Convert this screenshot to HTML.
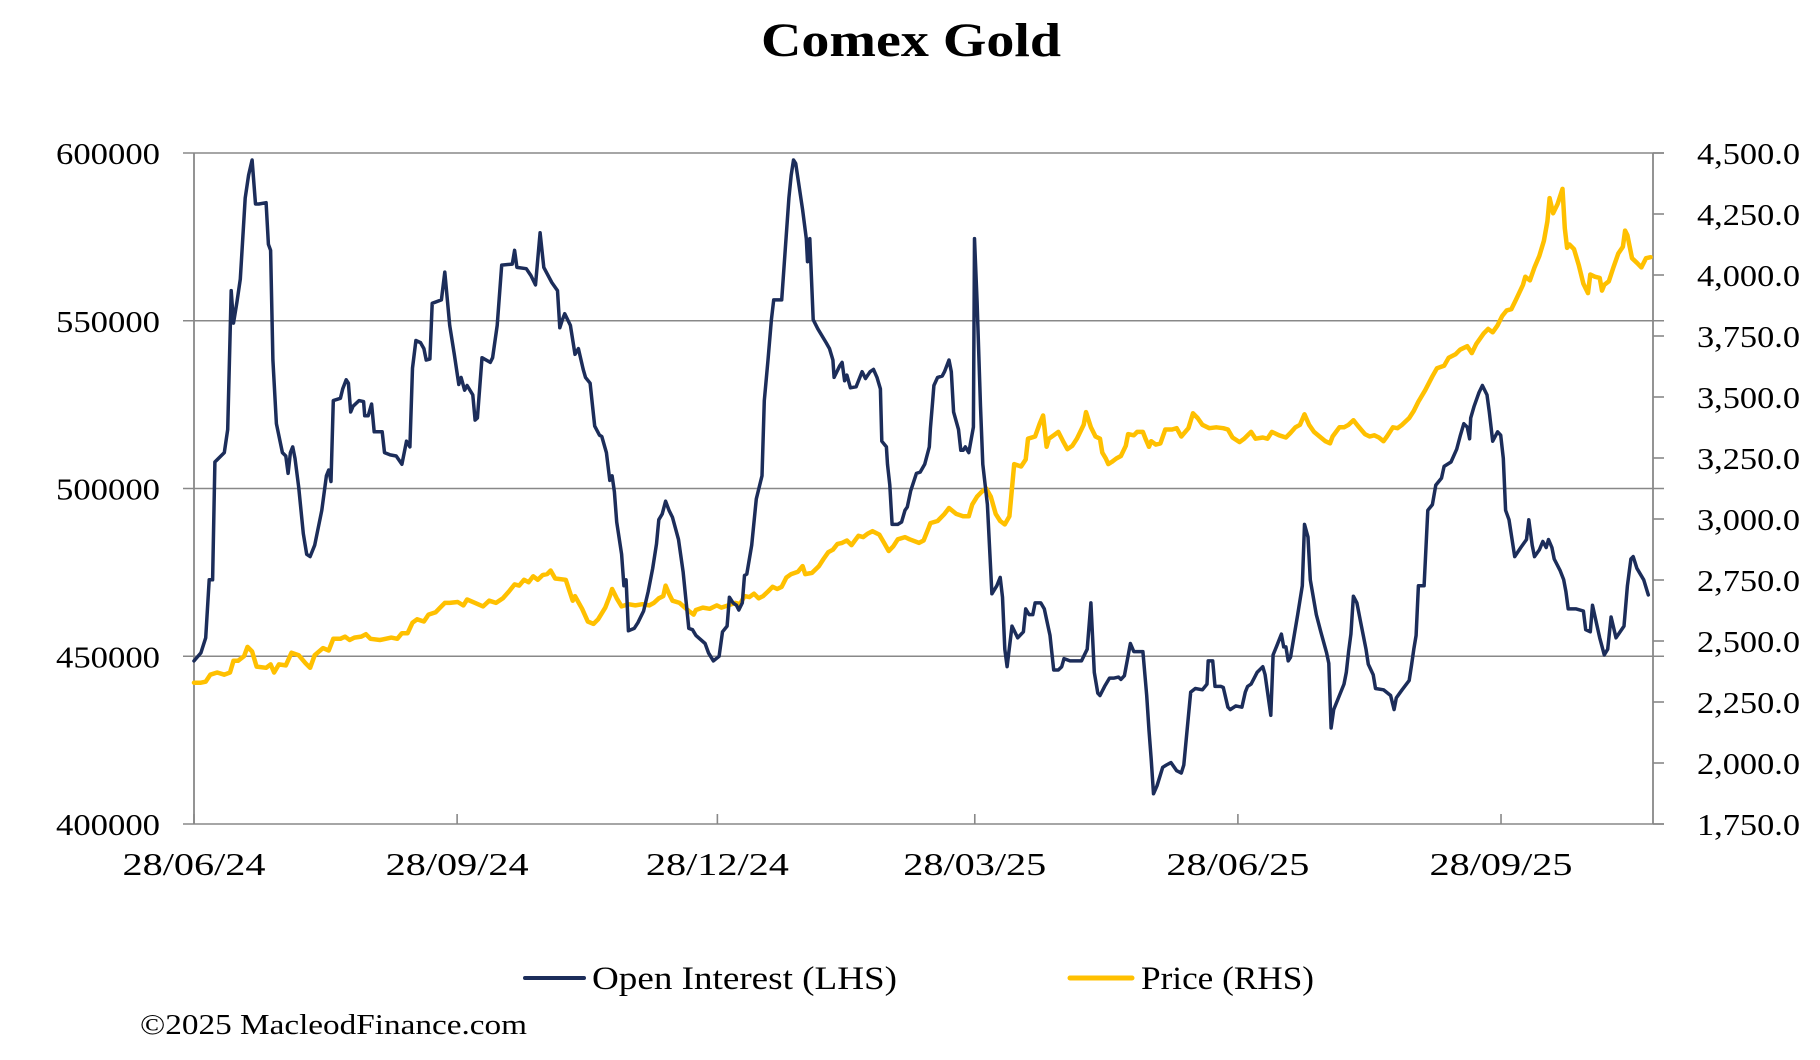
<!DOCTYPE html>
<html><head><meta charset="utf-8"><title>Comex Gold</title>
<style>
html,body{margin:0;padding:0;background:#fff;}
svg{display:block;font-family:"Liberation Serif",serif;}
</style></head>
<body>
<svg id="chart" width="1820" height="1060" viewBox="0 0 1820 1060">
<text x="911" y="56" text-anchor="middle" font-size="48" font-weight="bold" fill="#000" textLength="300" lengthAdjust="spacingAndGlyphs">Comex Gold</text>
<g id="grid"></g>
<g id="axes"></g>
<g id="series"></g>
<g>
 <g>
  <line x1="525" y1="978" x2="584" y2="978" stroke="#1c2d5a" stroke-width="4" stroke-linecap="round"/>
  <text x="592" y="989" font-size="33" fill="#000" textLength="305" lengthAdjust="spacingAndGlyphs">Open Interest (LHS)</text>
 </g>
 <g>
  <line x1="1070" y1="978" x2="1132" y2="978" stroke="#FFC000" stroke-width="5" stroke-linecap="round"/>
  <text x="1141" y="989" font-size="33" fill="#000" textLength="173" lengthAdjust="spacingAndGlyphs">Price (RHS)</text>
 </g>
</g>
<text x="140" y="1034" font-size="28" fill="#000" textLength="387" lengthAdjust="spacingAndGlyphs">©2025 MacleodFinance.com</text>
</svg>
<script>
const oiDays=[0,2.4,4.1,5.3,6.5,7.3,10.6,11.8,13.0,13.8,15.0,16.2,17.9,19.1,20.3,21.5,22.7,25.2,26.0,26.8,27.6,28.8,30.9,32.1,32.9,33.7,34.5,35.3,36.6,38.2,39.4,40.6,42.2,44.7,46.3,47.1,47.9,48.7,51.2,52.0,53.2,54.0,54.8,55.6,57.7,59.3,59.7,60.9,62.1,63.0,65.8,66.6,68.6,70.7,72.7,74.3,75.5,76.4,77.6,79.2,80.4,81.2,82.5,83.3,86.5,87.7,89.4,91.0,92.6,93.4,94.6,95.5,97.5,98.3,99.1,100.7,103.6,104.4,106.0,107.6,111.3,112.1,112.9,116.2,117.8,119.4,121.0,122.3,125.1,127.1,127.9,128.8,129.6,131.6,133.2,134.4,136.1,136.9,138.5,140.1,141.8,142.6,144.2,145.4,146.2,147.0,147.8,149.5,150.3,151.1,151.9,153.9,155.2,157.2,158.8,160.4,161.7,162.5,163.7,164.9,166.1,167.3,169.4,171.0,173.0,174.3,175.5,178.7,179.9,181.6,183.6,184.8,186.4,187.2,188.5,189.7,190.5,191.7,192.5,193.3,195.0,196.6,198.6,199.4,200.7,201.9,202.7,205.5,206.7,208.0,208.8,209.6,210.4,212.8,214.1,214.5,215.3,216.5,218.1,221.0,222.2,223.4,223.8,225.8,226.6,227.5,228.3,229.5,231.5,233.6,234.8,236.4,237.6,238.8,240.0,240.5,242.1,242.5,243.3,244.1,246.1,247.4,248.6,249.4,250.6,252.6,253.9,255.5,257.1,257.5,258.3,258.7,260.0,261.6,262.4,264.0,264.8,265.6,267.3,268.1,268.9,269.7,270.9,272.5,272.9,273.8,275.0,275.8,277.4,279.0,280.7,281.9,282.7,283.5,284.3,286.0,288.0,290.0,290.8,292.0,293.3,294.1,296.1,297.3,299.3,300.6,302.2,303.4,304.2,306.3,310.3,312.3,313.6,314.8,316.0,316.8,318.4,320.1,321.7,323.3,324.1,325.3,327.4,328.6,329.8,331.8,333.1,333.9,334.7,335.5,336.7,338.7,340.0,341.6,343.6,345.2,346.1,347.7,348.5,350.1,352.6,354.2,354.6,356.2,357.0,359.1,359.9,361.5,362.3,364.3,366.4,367.6,368.4,369.6,371.7,373.7,374.5,376.5,377.3,378.6,380.2,381.0,381.8,382.6,383.4,385.9,387.5,388.3,389.5,390.3,392.4,394.0,396.0,396.8,397.6,398.5,400.5,402.1,402.9,403.7,404.5,405.4,406.6,407.8,409.8,410.6,412.3,413.1,415.9,418.4,419.6,420.4,422.4,424.9,425.7,426.5,427.3,428.1,430.1,431.4,433.0,434.2,436.2,437.1,439.5,441.5,442.8,444.0,445.2,446.0,446.4,447.6,449.3,450.5,452.1,452.9,454.1,455.8,456.9,457.8,458.6,459.8,461.8,463.9,465.9,466.7,467.9,468.7,470.4,471.6,472.8,473.6,474.8,475.6,477.7,478.9,479.7,480.5,483.3,485.8,486.6,488.2,489.0,491.5,493.1,494.3,495.5,497.2,500.0,501.2,502.4,503.2,504.5,506.9,508.5];
const oiValues=[448.6,451.0,455.5,472.8,472.8,507.9,510.7,517.6,559.0,549.3,555.5,562.4,586.6,593.4,597.9,584.8,584.8,585.2,572.8,571.0,538.3,519.3,510.7,509.7,504.5,510.7,512.4,509.0,500.4,486.6,480.4,479.7,483.1,493.5,503.8,505.5,502.1,526.2,526.9,529.7,532.4,531.4,522.8,524.5,526.2,525.9,521.7,521.7,525.2,516.9,516.9,510.7,510.0,509.7,507.2,514.1,512.4,535.9,544.1,543.5,541.7,538.3,538.6,555.2,556.2,564.5,548.6,540.0,531.0,533.1,529.3,530.7,527.9,520.4,521.0,539.0,537.6,539.0,548.6,566.6,566.9,571.0,565.9,565.5,563.5,560.7,576.2,565.9,561.4,559.0,547.9,550.3,552.1,548.6,540.0,541.7,535.5,533.1,531.4,518.6,515.9,515.5,510.7,502.4,503.8,499.0,490.0,480.4,471.0,472.8,457.6,458.3,460.0,463.5,469.3,476.2,483.5,490.7,492.4,496.2,493.5,491.4,484.8,475.2,458.3,457.9,456.2,453.8,451.0,448.6,450.0,457.3,459.0,467.6,465.9,465.2,463.8,465.9,474.1,474.5,483.1,496.9,503.8,526.2,538.3,550.3,556.2,556.2,571.0,586.6,593.4,597.9,596.9,583.1,574.5,567.6,574.5,550.3,547.6,543.5,541.7,538.3,533.1,536.6,537.6,532.1,533.8,530.0,530.3,534.8,532.8,534.8,535.5,533.1,529.7,514.1,512.4,507.2,501.0,489.3,489.3,490.0,493.5,494.5,499.3,504.5,504.9,507.2,512.4,517.9,526.2,530.7,533.1,533.5,534.8,538.3,534.8,522.8,517.6,511.4,511.4,512.4,510.7,518.3,574.5,555.5,524.5,507.2,495.2,468.6,471.0,473.5,467.6,452.1,446.9,459.0,455.5,457.3,464.1,462.4,462.4,465.9,465.9,464.1,456.2,445.9,445.9,446.9,449.3,448.6,448.6,452.1,465.9,445.2,439.0,438.3,441.0,443.5,443.5,443.8,443.1,444.2,453.8,451.4,451.4,451.4,438.3,427.9,419.3,409.0,411.4,416.9,417.6,418.3,415.9,415.2,417.6,432.1,439.3,440.4,440.0,441.7,448.6,448.6,441.0,441.0,440.7,434.8,434.1,435.2,434.8,439.3,441.0,441.7,445.2,446.9,444.5,432.4,450.4,453.1,456.6,452.8,452.8,448.6,449.7,462.4,471.0,489.3,485.5,472.8,462.4,457.3,451.0,447.9,428.6,434.1,438.3,441.7,445.2,451.4,456.6,467.9,465.9,460.7,452.1,447.6,444.5,440.4,440.0,438.3,434.1,437.6,440.0,442.8,447.3,452.1,456.2,471.0,471.0,493.5,495.2,501.0,503.1,506.6,507.9,511.7,515.9,519.3,518.3,514.8,521.0,524.5,528.6,530.7,527.9,522.8,514.1,516.9,515.9,509.0,493.5,490.7,479.7,482.4,484.8,490.7,483.1,479.7,481.7,484.2,482.4,484.8,482.4,479.0,475.5,472.8,469.3,464.1,464.1,463.5,457.9,457.3,465.2,455.5,450.4,452.1,461.7,455.5,459.0,471.0,479.0,479.7,476.2,472.8,468.3];
const priceDays=[0,2.4,4.1,5.7,8.1,10.6,12.6,13.8,15.4,17.5,18.7,20.3,21.9,25.2,26.8,28.0,29.7,32.1,34.1,36.6,39.0,40.6,42.2,45.1,47.1,48.7,51.2,52.8,54.4,56.1,58.5,60.1,61.7,65.0,69.0,71.1,72.7,74.7,76.4,78.0,80.4,82.0,84.5,86.1,87.7,89.4,92.2,94.2,95.5,98.3,101.1,103.2,105.6,108.0,110.1,112.1,113.7,115.4,117.0,118.6,120.2,121.9,123.5,124.7,126.3,130.0,131.2,132.4,133.2,135.7,137.7,139.7,141.3,143.8,145.4,146.2,147.8,149.5,151.9,154.3,156.8,159.2,160.8,162.5,164.1,164.9,166.1,167.3,169.8,173.0,174.7,175.5,177.9,180.3,182.8,184.4,186.8,189.3,190.9,192.5,194.2,195.8,197.4,199.0,200.7,202.3,203.9,205.5,207.1,208.8,211.2,212.8,213.7,216.1,218.5,220.1,221.8,223.4,225.0,226.6,228.3,229.9,232.3,234.0,235.6,237.2,239.6,241.3,242.9,244.5,246.1,248.6,250.2,253.5,255.1,256.7,257.5,260.0,262.4,264.0,266.5,268.9,270.9,272.1,273.8,275.4,277.0,278.6,280.3,281.9,283.5,285.1,286.8,289.2,290.8,291.6,294.1,295.7,296.9,298.1,298.9,300.6,302.2,303.8,305.4,307.1,308.7,311.1,311.9,313.6,315.2,316.8,317.6,318.8,319.7,320.9,322.5,324.1,325.8,326.6,328.6,329.8,331.8,332.7,333.9,334.7,336.3,337.9,339.6,342.0,343.6,345.2,347.7,349.3,350.9,352.6,355.0,357.4,359.9,361.5,363.1,365.6,367.2,368.8,369.6,371.2,373.7,375.3,376.9,379.4,381.8,383.4,385.1,386.7,388.3,389.9,391.6,394.0,395.6,397.2,398.1,400.5,402.1,403.7,405.4,407.0,409.4,411.1,412.7,414.3,415.9,417.1,419.2,420.8,422.4,424.9,426.5,428.1,430.5,433.0,434.6,437.1,438.7,441.1,442.7,445.2,446.8,448.4,450.9,452.5,454.1,455.8,457.4,459.0,460.6,462.2,464.7,465.5,467.1,468.7,470.4,472.0,473.2,474.0,475.2,476.8,478.5,479.3,480.1,480.9,482.5,484.2,485.8,487.4,488.2,489.8,491.5,492.3,493.1,494.7,496.3,498.0,499.6,500.4,501.2,502.8,504.5,506.1,507.7,509.3];
const priceValues=[2329,2329,2333,2362,2371,2362,2371,2419,2419,2438,2476,2457,2395,2390,2404,2371,2404,2400,2452,2442,2409,2390,2442,2471,2461,2509,2509,2518,2504,2514,2518,2528,2509,2504,2514,2509,2532,2532,2575,2589,2580,2608,2618,2637,2656,2656,2660,2646,2670,2656,2642,2665,2656,2675,2703,2732,2727,2751,2741,2765,2751,2770,2774,2789,2756,2751,2708,2665,2684,2632,2580,2570,2589,2637,2684,2713,2675,2642,2651,2646,2651,2646,2656,2675,2684,2727,2694,2665,2656,2623,2608,2627,2637,2632,2646,2637,2646,2656,2651,2684,2680,2694,2675,2684,2703,2722,2713,2722,2760,2774,2784,2807,2774,2779,2807,2836,2864,2874,2898,2902,2912,2893,2931,2926,2940,2950,2936,2902,2869,2888,2917,2926,2917,2902,2912,2959,2983,2992,3021,3045,3021,3011,3011,3059,3092,3111,3125,3092,3021,2992,2978,3011,3225,3215,3244,3329,3338,3391,3424,3296,3329,3343,3357,3320,3286,3300,3329,3386,3438,3376,3338,3329,3272,3248,3225,3234,3248,3258,3300,3348,3343,3357,3357,3329,3296,3319,3305,3310,3367,3367,3372,3338,3372,3433,3414,3386,3372,3376,3372,3367,3334,3315,3329,3348,3357,3329,3334,3329,3357,3343,3334,3353,3376,3386,3429,3386,3357,3334,3319,3310,3338,3376,3376,3386,3405,3381,3348,3338,3343,3334,3319,3338,3376,3372,3386,3414,3443,3481,3528,3585,3618,3628,3661,3675,3694,3708,3680,3718,3760,3779,3765,3794,3832,3855,3860,3898,3960,3993,3978,4031,4078,4140,4220,4315,4253,4291,4353,4192,4111,4125,4106,4040,3964,3926,4002,3993,3988,3936,3960,3974,4031,4088,4116,4182,4163,4069,4050,4031,4069,4073];
const leftTicks=[400000,450000,500000,550000,600000];
const rightTicks=[1750,2000,2250,2500,2750,3000,3250,3500,3750,4000,4250,4500];
const xTickDays=[0,92,183,273,365,457];
const xTickLabels=["28/06/24","28/09/24","28/12/24","28/03/25","28/06/25","28/09/25"];

const NS="http://www.w3.org/2000/svg";
const L=194,R=1653,T=153,B=824;
const xOf=d=>L+d*2.860;
const yL=v=>B-(v-400000)/200000*(B-T);
const yR=v=>B-(v-1750)/2750*(B-T);
function mk(tag,attrs,parent){const e=document.createElementNS(NS,tag);for(const k in attrs)e.setAttribute(k,attrs[k]);parent.appendChild(e);return e;}
const grid=document.getElementById('grid'),axes=document.getElementById('axes'),series=document.getElementById('series');
leftTicks.forEach(v=>{
  const y=yL(v);
  const ln=mk('line',{x1:L-11,x2:R+11,y1:y,y2:y,stroke:'#888','stroke-width':1.6},grid);
  
  
  const t=mk('text',{x:160,y:y+11,'text-anchor':'end','font-size':31,fill:'#000',textLength:104,lengthAdjust:'spacingAndGlyphs'},axes);
  t.textContent=String(v);
  
  
});
rightTicks.forEach(v=>{
  const y=yR(v);
  const tk=mk('line',{x1:R,x2:R+11,y1:y,y2:y,stroke:'#888','stroke-width':1.6},axes);
  
  
  const t=mk('text',{x:1697,y:y+11,'font-size':31,fill:'#000',textLength:103,lengthAdjust:'spacingAndGlyphs'},axes);
  t.textContent=v.toLocaleString('en-US',{minimumFractionDigits:1,maximumFractionDigits:1});
  
  
});
const la=mk('line',{x1:L,x2:L,y1:T,y2:B,stroke:'#888','stroke-width':1.8},axes);


const ra=mk('line',{x1:R,x2:R,y1:T,y2:B,stroke:'#888','stroke-width':1.8},axes);


xTickDays.forEach((d,i)=>{
  const x=xOf(d);
  const tk=mk('line',{x1:x,x2:x,y1:B,y2:B-10,stroke:'#888','stroke-width':1.6},axes);
  
  
  const t=mk('text',{x:x,y:B+51,'text-anchor':'middle','font-size':32,fill:'#000',textLength:143,lengthAdjust:'spacingAndGlyphs'},axes);
  t.textContent=xTickLabels[i];
  
  
});
const oiPts=oiDays.map((d,i)=>xOf(d).toFixed(1)+','+yL(oiValues[i]*1000).toFixed(1)).join(' ');
const prPts=priceDays.map((d,i)=>xOf(d).toFixed(1)+','+yR(priceValues[i]).toFixed(1)).join(' ');
const p1=mk('polyline',{points:prPts,fill:'none',stroke:'#FFC000','stroke-width':4.5,'stroke-linejoin':'round','stroke-linecap':'round'},series);


const p2=mk('polyline',{points:oiPts,fill:'none',stroke:'#1c2d5a','stroke-width':3.5,'stroke-linejoin':'round','stroke-linecap':'round'},series);


</script>
</body></html>
